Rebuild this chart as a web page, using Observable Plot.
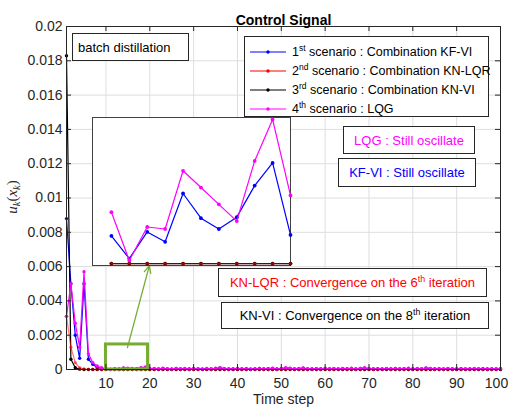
<!DOCTYPE html>
<html><head><meta charset="utf-8">
<script src="https://cdn.jsdelivr.net/npm/d3@7"></script>
<script src="https://cdn.jsdelivr.net/npm/@observablehq/plot@0.6"></script>
<style>
body{margin:0;background:#fff;font-family:"Liberation Sans",Arial,sans-serif;}
#wrap{position:relative;width:509px;height:411px;overflow:hidden}
#wrap svg{overflow:visible}
.box{position:absolute;background:#fff;border:1px solid #262626;box-sizing:border-box;font-size:13px;white-space:nowrap;display:flex;align-items:center;justify-content:center;color:#000}
sup{font-size:68%;vertical-align:0.55em;line-height:0}
#legend{position:absolute;left:244px;top:36px;width:245px;height:81px;border:1px solid #262626;box-sizing:border-box;background:#fff;font-size:12.5px;color:#000}
#legend .row{position:absolute;left:0;height:19px;display:flex;align-items:center;white-space:nowrap}
#legend svg{margin-left:5px;margin-right:6px}
#inset{position:absolute;left:92px;top:117px;width:199px;height:149px;border:1px solid #404040;box-sizing:border-box;background:#fff}
#ylab{position:absolute;left:12px;top:197px;transform:translate(-50%,-50%) rotate(-90deg);font-family:"Liberation Serif","Times New Roman",serif;font-size:15px;white-space:nowrap;color:#262626}
#ylab sub{font-size:70%;vertical-align:-0.3em;line-height:0}
</style></head><body><div id="wrap"></div>
<script>
// ---------- data ----------
const steps = d3.range(1, 101);
const xTicks = [10, 20, 30, 40, 50, 60, 70, 80, 90, 100];
const yTicks = [0, 0.002, 0.004, 0.006, 0.008, 0.01, 0.012, 0.014, 0.016, 0.018, 0.02];

const blueVals = [
  0.0088, 0.0050, 0.0020, 0.00065, 0.0050, 0.0006, 0.0003, 0.00012, 0.00006,
  28e-6, 5e-6, 32e-6, 22e-6, 71e-6, 46e-6, 35e-6, 47e-6, 79e-6, 102e-6, 29e-6,
  40e-6, 25e-6, 60e-6, 35e-6, 20e-6, 55e-6, 30e-6, 45e-6, 25e-6, 50e-6,
  35e-6, 20e-6, 45e-6, 30e-6, 60e-6, 85e-6, 40e-6, 25e-6, 35e-6, 50e-6,
  30e-6, 45e-6, 20e-6, 35e-6, 55e-6, 30e-6, 40e-6, 60e-6, 25e-6, 45e-6,
  80e-6, 60e-6, 30e-6, 45e-6, 70e-6, 35e-6, 25e-6, 40e-6, 30e-6, 55e-6,
  35e-6, 45e-6, 25e-6, 50e-6, 40e-6, 60e-6, 30e-6, 55e-6, 80e-6, 45e-6,
  30e-6, 40e-6, 25e-6, 45e-6, 35e-6, 55e-6, 30e-6, 40e-6, 60e-6, 35e-6,
  45e-6, 30e-6, 75e-6, 50e-6, 30e-6, 40e-6, 25e-6, 45e-6, 35e-6, 30e-6,
  40e-6, 25e-6, 35e-6, 45e-6, 30e-6, 40e-6, 25e-6, 35e-6, 30e-6, 40e-6
];
const redVals = [
  0.0031, 0.0013, 0.0004, 0.0001, 0.00003, 0, 0, 0, 0, 0,
  0, 0, 0, 0, 0, 0, 0, 0, 0, 0, 0, 0, 0, 0, 0, 0, 0, 0, 0, 0,
  0, 0, 0, 0, 0, 0, 0, 0, 0, 0, 0, 0, 0, 0, 0, 0, 0, 0, 0, 0,
  0, 0, 0, 0, 0, 0, 0, 0, 0, 0, 0, 0, 0, 0, 0, 0, 0, 0, 0, 0,
  0, 0, 0, 0, 0, 0, 0, 0, 0, 0, 0, 0, 0, 0, 0, 0, 0, 0, 0, 0,
  0, 0, 0, 0, 0, 0, 0, 0, 0, 0
];
const blackVals = [
  0.0183, 0.0006, 0.0001, 0.00002, 0, 0, 0, 0, 0, 0,
  0, 0, 0, 0, 0, 0, 0, 0, 0, 0, 0, 0, 0, 0, 0, 0, 0, 0, 0, 0,
  0, 0, 0, 0, 0, 0, 0, 0, 0, 0, 0, 0, 0, 0, 0, 0, 0, 0, 0, 0,
  0, 0, 0, 0, 0, 0, 0, 0, 0, 0, 0, 0, 0, 0, 0, 0, 0, 0, 0, 0,
  0, 0, 0, 0, 0, 0, 0, 0, 0, 0, 0, 0, 0, 0, 0, 0, 0, 0, 0, 0,
  0, 0, 0, 0, 0, 0, 0, 0, 0, 0
];
const magentaVals = [
  0.0031, 0.0050, 0.0027, 0.0013, 0.0057, 0.0009, 0.0004, 0.0002, 0.0001,
  52e-6, 3e-6, 37e-6, 35e-6, 94e-6, 77e-6, 60e-6, 43e-6, 104e-6, 146e-6, 69e-6,
  55e-6, 35e-6, 70e-6, 45e-6, 30e-6, 65e-6, 40e-6, 55e-6, 35e-6, 60e-6,
  45e-6, 30e-6, 55e-6, 40e-6, 70e-6, 110e-6, 50e-6, 35e-6, 45e-6, 60e-6,
  40e-6, 55e-6, 30e-6, 45e-6, 65e-6, 40e-6, 50e-6, 75e-6, 35e-6, 55e-6,
  105e-6, 70e-6, 40e-6, 55e-6, 90e-6, 45e-6, 35e-6, 50e-6, 40e-6, 65e-6,
  45e-6, 55e-6, 35e-6, 60e-6, 50e-6, 70e-6, 40e-6, 65e-6, 100e-6, 55e-6,
  40e-6, 50e-6, 35e-6, 55e-6, 45e-6, 65e-6, 40e-6, 50e-6, 70e-6, 45e-6,
  55e-6, 40e-6, 95e-6, 60e-6, 40e-6, 50e-6, 35e-6, 55e-6, 45e-6, 40e-6,
  50e-6, 35e-6, 45e-6, 55e-6, 40e-6, 50e-6, 35e-6, 45e-6, 40e-6, 50e-6
];
const seriesNames = ["1st scenario : Combination KF-VI", "2nd scenario : Combination KN-LQR", "3rd scenario : Combination KN-VI", "4th scenario : LQG"];
const seriesColors = ["#0000FF", "#FF0000", "#000000", "#FF00FF"];

// zoom window (data units) and arrow
const zoomBox = [{x1: 10, x2: 19.6, y1: 0, y2: 0.00146}];
const zoomArrow = [{x1: 14.9, y1: 0.00128, x2: 19.9, y2: 0.00606}];
const insetRange = [10, 20];

// ---------- build ----------
const toRows = (vals) => steps.map((t, i) => ({t, v: vals[i]}));
const blue = toRows(blueVals), red = toRows(redVals), black = toRows(blackVals), magenta = toRows(magentaVals);

const W = 509, H = 411, mL = 66, mR = 9, mT = 26, mB = 42;
const innerW = W - mL - mR, innerH = H - mT - mB;
const axisColor = "#262626";
const green = "#77AC30";

function seriesMarks(rows, color, opacity = 1, r = 1.7) {
  return [
    Plot.line(rows, {x: "t", y: "v", stroke: color, strokeWidth: 1.2, strokeOpacity: opacity}),
    Plot.dot(rows, {x: "t", y: "v", r, fill: color, fillOpacity: opacity, stroke: "none"})
  ];
}

const lastTick = xTicks[xTicks.length - 1];
const main = Plot.plot({
  width: W, height: H,
  marginLeft: mL, marginRight: mR, marginTop: mT, marginBottom: mB,
  style: {fontFamily: "Liberation Sans, Arial, sans-serif", fontSize: "14px", color: axisColor, background: "transparent", overflow: "visible"},
  x: {domain: [1, 100]},
  y: {domain: [0, 0.02]},
  marks: [
    Plot.gridX(xTicks, {stroke: "#dedede", strokeOpacity: 1}),
    Plot.gridY(yTicks, {stroke: "#dedede", strokeOpacity: 1}),
    Plot.axisX(xTicks.slice(0, -1), {tickSize: 0, tickPadding: 9, label: null, fontSize: 14}),
    Plot.axisX([lastTick], {tickSize: 0, tickPadding: 9, label: null, fontSize: 14, dx: -4}),
    Plot.axisY(yTicks, {tickSize: 0, tickPadding: 4, label: null, fontSize: 14, tickFormat: d => String(d)}),
    ...seriesMarks(blue, seriesColors[0]),
    ...seriesMarks(black, seriesColors[2]),
    ...seriesMarks(red, seriesColors[1], 0.55),
    ...seriesMarks(magenta, seriesColors[3]),
    Plot.rect(zoomBox, {x1: "x1", x2: "x2", y1: "y1", y2: "y2", fill: "none", stroke: green, strokeWidth: 3}),
    Plot.arrow(zoomArrow, {x1: "x1", y1: "y1", x2: "x2", y2: "y2", stroke: green, strokeWidth: 1.3, headLength: 9, headAngle: 50}),
    Plot.frame({stroke: axisColor}),
    Plot.tickX(xTicks, {x: d => d, insetTop: innerH - 5, stroke: axisColor}),
    Plot.tickX(xTicks, {x: d => d, insetBottom: innerH - 5, stroke: axisColor}),
    Plot.tickY(yTicks, {y: d => d, insetRight: innerW - 5, stroke: axisColor}),
    Plot.tickY(yTicks, {y: d => d, insetLeft: innerW - 5, stroke: axisColor}),
    Plot.text(["Control Signal"], {frameAnchor: "top", dy: -11, fontWeight: "bold", fontSize: 14, fill: "#000"}),
    Plot.text(["Time step"], {frameAnchor: "bottom", dy: 34, fontSize: 14, fill: axisColor})
  ]
});

const wrap = document.getElementById("wrap");
main.style.position = "absolute";
main.style.left = "0px";
main.style.top = "0px";
wrap.appendChild(main);

// y label
const ylab = document.createElement("div");
ylab.id = "ylab";
ylab.innerHTML = "<i>u</i><sub><i>k</i></sub>(<i>x</i><sub><i>k</i></sub>)";
wrap.appendChild(ylab);

// inset
const inRows = (rows) => rows.filter(d => d.t >= insetRange[0] && d.t <= insetRange[1]);
const insetDiv = document.createElement("div");
insetDiv.id = "inset";
const inset = Plot.plot({
  width: 197, height: 147, margin: 0,
  style: {background: "transparent", overflow: "visible"},
  x: {domain: [9, 20], axis: null},
  y: {domain: [-2e-6, 147e-6], axis: null},
  marks: [
    ...seriesMarks(inRows(blue), seriesColors[0], 1, 1.9),
    ...seriesMarks(inRows(black), seriesColors[2], 1, 1.9),
    ...seriesMarks(inRows(red), seriesColors[1], 0.45, 1.9),
    ...seriesMarks(inRows(magenta), seriesColors[3], 1, 1.9)
  ]
});
insetDiv.appendChild(inset);
wrap.appendChild(insetDiv);

// legend
const legend = document.createElement("div");
legend.id = "legend";
const supName = s => s.replace(/^(\d)(st|nd|rd|th)/, "$1<sup>$2</sup>");
seriesNames.forEach((name, i) => {
  const row = document.createElement("div");
  row.className = "row";
  row.style.top = (5 + i * 19) + "px";
  row.innerHTML = `<svg width="36" height="8"><line x1="0" x2="36" y1="4" y2="4" stroke="${seriesColors[i]}" stroke-width="1.2"/><circle cx="18" cy="4" r="1.7" fill="${seriesColors[i]}"/></svg><span>${supName(name)}</span>`;
  legend.appendChild(row);
});
wrap.appendChild(legend);

// annotation boxes
const notes = [
  {html: "batch distillation", color: "#000", left: 72, top: 33, w: 117, h: 28, align: "flex-start"},
  {html: "LQG : Still oscillate", color: "#FF00FF", left: 343, top: 126, w: 132, h: 28},
  {html: "KF-VI : Still oscillate", color: "#0000FF", left: 338, top: 158, w: 138, h: 29},
  {html: "KN-LQR : Convergence on the 6<sup>th</sup> iteration", color: "#FF0000", left: 218, top: 268, w: 269, h: 29},
  {html: "KN-VI : Convergence on the 8<sup>th</sup> iteration", color: "#000", left: 221, top: 302, w: 268, h: 27}
];
notes.forEach(n => {
  const d = document.createElement("div");
  d.className = "box";
  d.style.left = n.left + "px"; d.style.top = n.top + "px";
  d.style.width = n.w + "px"; d.style.height = n.h + "px";
  d.style.color = n.color;
  if (n.align) { d.style.justifyContent = n.align; d.style.paddingLeft = "5px"; }
  d.innerHTML = `<span>${n.html}</span>`;
  wrap.appendChild(d);
});
</script></body></html>
